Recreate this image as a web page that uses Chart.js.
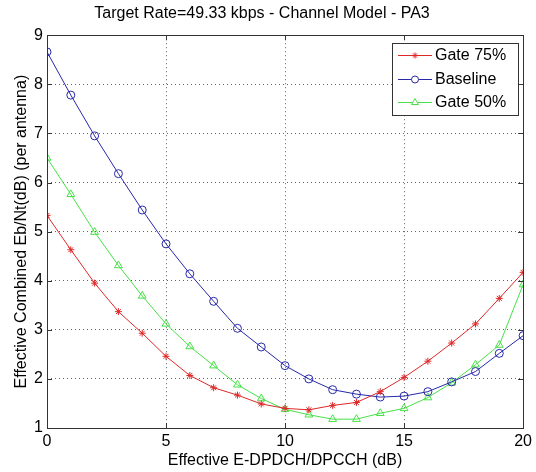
<!DOCTYPE html>
<html>
<head>
<meta charset="utf-8">
<script src="https://cdn.jsdelivr.net/npm/chart.js@4.4.1/dist/chart.umd.min.js"></script>
<style>
  html, body { margin: 0; padding: 0; background: #fff; }
  #wrap { width: 536px; height: 472px; }
</style>
</head>
<body>
<div id="wrap"><canvas id="c" width="536" height="472"></canvas></div>
<script>
const xValues = [0,1,2,3,4,5,6,7,8,9,10,11,12,13,14,15,16,17,18,19,20];
const gate75 = [5.33,4.63,3.95,3.37,2.93,2.46,2.07,1.82,1.67,1.49,1.40,1.37,1.46,1.52,1.74,2.03,2.36,2.73,3.12,3.64,4.17];
const baseline = [8.66,7.78,6.95,6.18,5.44,4.75,4.14,3.58,3.03,2.65,2.27,2.00,1.78,1.69,1.63,1.65,1.74,1.94,2.15,2.52,2.88];
const gate50 = [6.50,5.76,4.99,4.31,3.69,3.12,2.66,2.27,1.88,1.60,1.38,1.27,1.18,1.18,1.30,1.40,1.62,1.92,2.29,2.69,3.92];
const seriesNames = ['Gate 75%', 'Baseline', 'Gate 50%'];
const xTicks = [0,5,10,15,20];
const yTicks = [1,2,3,4,5,6,7,8,9];
const titleText = 'Target Rate=49.33 kbps - Channel Model - PA3';
const xLabel = 'Effective E-DPDCH/DPCCH (dB)';
const yLabel = 'Effective Combined Eb/Nt(dB) (per antenna)';

const FONT = 'Arial, "Liberation Sans", sans-serif';
const FS = 16;
const RED = 'rgb(222,40,40)';
const BLUE = 'rgb(40,40,170)';
const GREEN = 'rgb(70,225,70)';

function pts(arr) { return xValues.map((x, i) => ({x, y: arr[i]})); }

const styles = [
  {data: gate75, color: RED, pointStyle: 'star', radius: 3.5},
  {data: baseline, color: BLUE, pointStyle: 'circle', radius: 4},
  {data: gate50, color: GREEN, pointStyle: 'triangle', radius: 4.5}
];

const frameAndLegend = {
  id: 'frameAndLegend',
  afterDatasetsDraw(chart) {
    const ctx = chart.ctx;
    const a = chart.chartArea;
    const xs = chart.scales.x, ys = chart.scales.y;
    ctx.save();
    ctx.strokeStyle = '#333';
    ctx.lineWidth = 1;
    ctx.setLineDash([]);
    ctx.strokeRect(Math.round(a.left)+0.5, Math.round(a.top)+0.5, Math.round(a.right - a.left), Math.round(a.bottom - a.top));
    const tl = 5;
    ctx.beginPath();
    xTicks.forEach(v => {
      const px = Math.round(xs.getPixelForValue(v)) + 0.5;
      ctx.moveTo(px, a.bottom); ctx.lineTo(px, a.bottom - tl);
      ctx.moveTo(px, a.top); ctx.lineTo(px, a.top + tl);
    });
    yTicks.forEach(v => {
      const py = Math.round(ys.getPixelForValue(v)) + 0.5;
      ctx.moveTo(a.left, py); ctx.lineTo(a.left + tl, py);
      ctx.moveTo(a.right, py); ctx.lineTo(a.right - tl, py);
    });
    ctx.stroke();

    // legend
    const lx = 392, ly = 43, lw = 126, lh = 72;
    ctx.fillStyle = '#fff';
    ctx.fillRect(lx, ly, lw, lh);
    ctx.strokeStyle = '#333';
    ctx.strokeRect(lx + 0.5, ly + 0.5, lw, lh);
    ctx.font = FS + 'px ' + FONT;
    ctx.textBaseline = 'middle';
    ctx.textAlign = 'left';
    const rows = [55, 79, 102];
    styles.forEach((s, i) => {
      const y = rows[i];
      ctx.strokeStyle = s.color;
      ctx.lineWidth = 1;
      ctx.beginPath();
      ctx.moveTo(398, y + 0.5); ctx.lineTo(432, y + 0.5);
      ctx.stroke();
      ctx.fillStyle = '#fff';
      ctx.strokeStyle = s.color;
      Chart.helpers.drawPoint(ctx, {pointStyle: s.pointStyle, radius: s.radius - 0.5, borderWidth: 1, rotation: 0}, 415, y + 0.5);
      ctx.fillStyle = '#000';
      ctx.fillText(seriesNames[i], 435, y + 1);
    });
    ctx.restore();
  }
};

new Chart(document.getElementById('c'), {
  type: 'line',
  data: {
    datasets: styles.map((s, i) => ({
      label: seriesNames[i],
      data: pts(s.data),
      borderColor: s.color,
      backgroundColor: 'rgba(0,0,0,0)',
      pointBorderColor: s.color,
      pointBackgroundColor: 'rgba(0,0,0,0)',
      pointStyle: s.pointStyle,
      pointRadius: s.radius,
      pointBorderWidth: 1,
      borderWidth: 1,
      tension: 0,
      fill: false
    }))
  },
  options: {
    responsive: false,
    animation: false,
    devicePixelRatio: 1,
    layout: {padding: {left: 0, right: 12, top: 0, bottom: 0}},
    plugins: {
      legend: {display: false},
      tooltip: {enabled: false},
      title: {
        display: true,
        text: titleText,
        color: '#000',
        font: {family: FONT, size: FS, weight: 'normal'},
        padding: {top: 4, bottom: 12}
      }
    },
    scales: {
      x: {
        type: 'linear',
        min: 0, max: 20,
        afterBuildTicks: s => { s.ticks = xTicks.map(v => ({value: v})); },
        afterFit: s => { s.height = 44; },
        ticks: {color: '#000', font: {family: FONT, size: FS}, padding: 4, maxRotation: 0},
        grid: {color: 'rgba(30,30,30,0.7)', drawTicks: false, lineWidth: 1},
        border: {display: false, dash: [1, 3]},
        title: {display: true, text: xLabel, color: '#000', font: {family: FONT, size: FS}, padding: {top: 0, bottom: 2}}
      },
      y: {
        type: 'linear',
        min: 1, max: 9,
        afterBuildTicks: s => { s.ticks = yTicks.map(v => ({value: v})); },
        afterFit: s => { s.width = 47; },
        ticks: {color: '#000', font: {family: FONT, size: FS}, padding: 4},
        grid: {color: 'rgba(30,30,30,0.7)', drawTicks: false, lineWidth: 1},
        border: {display: false, dash: [1, 3]},
        title: {display: true, text: yLabel, color: '#000', font: {family: FONT, size: FS}, padding: {top: 12, bottom: 0}}
      }
    }
  },
  plugins: [frameAndLegend]
});
</script>
</body>
</html>
